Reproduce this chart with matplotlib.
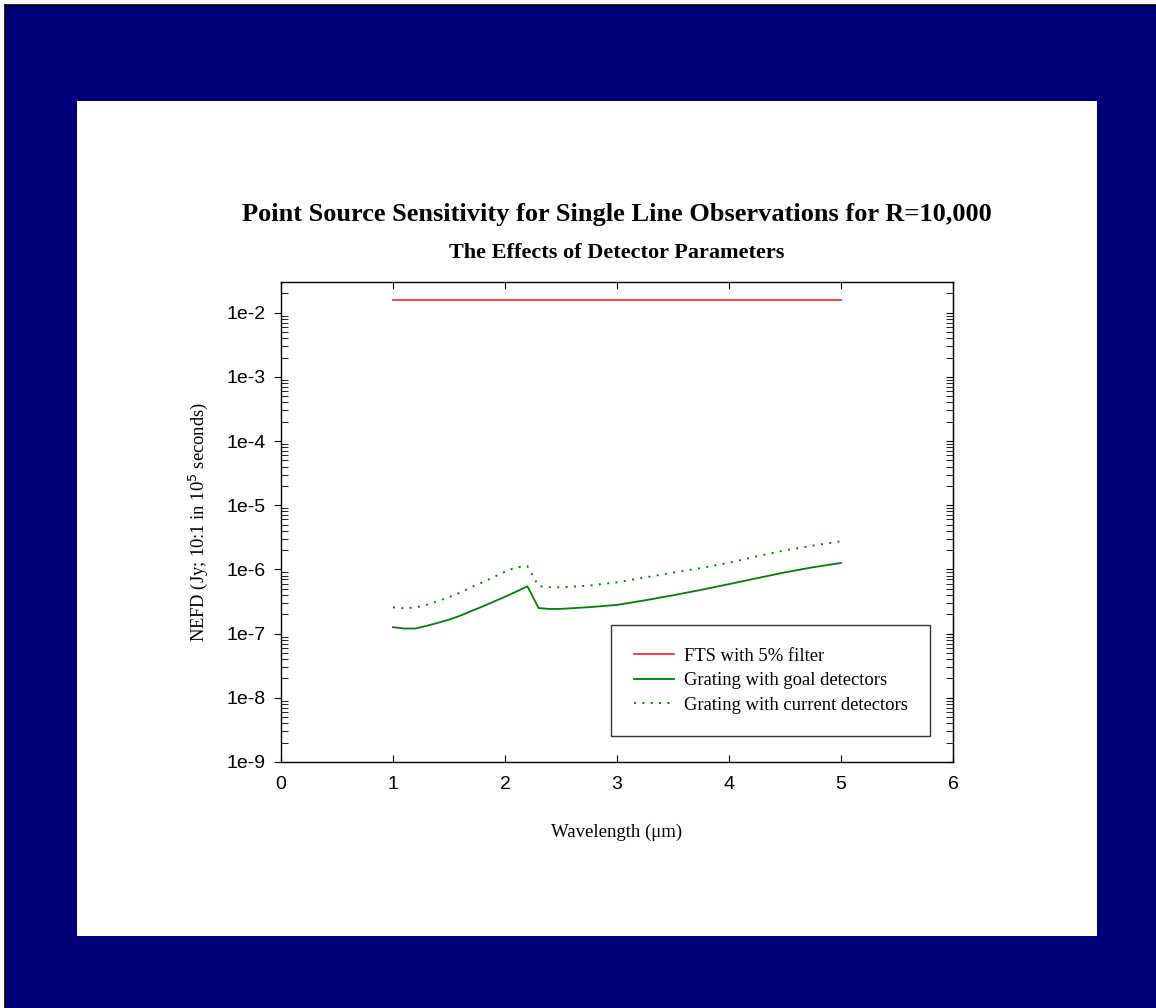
import numpy as np
import matplotlib.pyplot as plt
from matplotlib.patches import Rectangle
from matplotlib.lines import Line2D

# wavelength grid (um) and NEFD values
wl_fts = [1.0, 5.0]
nefd_fts = [1.6e-2, 1.6e-2]

wl = [1.0, 1.1, 1.2, 1.3, 1.4, 1.5, 1.6, 1.7, 1.8, 1.9, 2.0, 2.1, 2.2,
      2.3, 2.4, 2.5, 2.75, 3.0, 3.25, 3.5, 3.75, 4.0, 4.25, 4.5, 4.75, 5.0]
nefd_goal = [1.26e-7, 1.2e-7, 1.2e-7, 1.32e-7, 1.47e-7, 1.65e-7, 1.9e-7,
             2.25e-7, 2.65e-7, 3.15e-7, 3.75e-7, 4.5e-7, 5.45e-7,
             2.5e-7, 2.42e-7, 2.43e-7, 2.58e-7, 2.8e-7, 3.3e-7, 3.95e-7,
             4.8e-7, 5.9e-7, 7.3e-7, 9.0e-7, 1.08e-6, 1.26e-6]
nefd_current = [2.57e-7, 2.48e-7, 2.55e-7, 2.8e-7, 3.2e-7, 3.7e-7, 4.35e-7,
                5.3e-7, 6.3e-7, 7.6e-7, 9.2e-7, 1.08e-6, 1.12e-6,
                5.5e-7, 5.3e-7, 5.25e-7, 5.6e-7, 6.3e-7, 7.5e-7, 8.9e-7,
                1.05e-6, 1.27e-6, 1.6e-6, 1.98e-6, 2.35e-6, 2.75e-6]

labels = ['FTS with 5% filter', 'Grating with goal detectors',
          'Grating with current detectors']
xticks = [0, 1, 2, 3, 4, 5, 6]
ydecades = [-9, -8, -7, -6, -5, -4, -3, -2]

W, H = 1156, 1008
fig = plt.figure(figsize=(W / 100, H / 100), dpi=100)
fig.patch.set_facecolor('white')

# navy page background with white panel
fig.patches.append(Rectangle((5 / W, 0), 1 - 5 / W, 1 - 5 / H, transform=fig.transFigure,
                             facecolor='#000078', edgecolor='none', zorder=-10))
fig.add_artist(Line2D([4.5 / W, 4.5 / W], [0, 1 - 4.5 / H], color='black', lw=1.2,
                      transform=fig.transFigure))
fig.add_artist(Line2D([4.5 / W, 1], [1 - 4.5 / H, 1 - 4.5 / H], color='black', lw=1.2,
                      transform=fig.transFigure))
fig.patches.append(Rectangle((77 / W, 1 - 936 / H), (1097 - 77) / W, (936 - 101) / H,
                             transform=fig.transFigure, facecolor='white',
                             edgecolor='none', zorder=-9))

ax = fig.add_axes([281 / W, 1 - 762 / H, (953 - 281) / W, (762 - 282) / H])
ax.set_yscale('log')
ax.set_xlim(0, 6)
ax.set_ylim(1e-9, 3e-2)

ax.plot(wl_fts, nefd_fts, color='#ff3030', lw=1.3, label=labels[0])
ax.plot(wl, nefd_goal, color='#008000', lw=1.3, label=labels[1])
ax.plot(wl, nefd_current, color='#008000', lw=1.4, linestyle=(0, (1, 3.3)),
        label=labels[2])

ax.set_xticks(xticks)
ax.set_xticklabels([str(v) for v in xticks], family='Liberation Sans', fontsize=14)
ax.set_yticks([10.0 ** d for d in ydecades])
ax.set_yticklabels(['1e%d' % d for d in ydecades], family='Liberation Sans', fontsize=14)
ax.tick_params(axis='x', which='both', direction='in', top=True, length=5, pad=10)
ax.tick_params(axis='y', which='major', direction='out', length=5, pad=6)
ax.tick_params(axis='y', which='minor', direction='in', length=5, right=False)
ax.tick_params(axis='y', which='major', right=False)
ax.xaxis.set_minor_locator(plt.NullLocator())

sec = ax.secondary_yaxis('right', functions=(lambda v: v, lambda v: v))
sec.tick_params(which='both', direction='in', length=5, labelright=False)
sec.set_yticks([10.0 ** d for d in ydecades])
sec.set_yticklabels([])

for s in ax.spines.values():
    s.set_linewidth(1.0)

ax.set_xlabel('Wavelength (\u03bcm)', family='Liberation Serif', fontsize=13.5, labelpad=22)
ax.set_ylabel('NEFD (Jy; 10:1 in 10$^5$ seconds)', family='Liberation Serif',
              fontsize=13.3, labelpad=12)

fig.text(617 / W, 1 - 214 / H,
         'Point Source Sensitivity for Single Line Observations for R=10,000',
         family='Liberation Serif', fontweight='bold', fontsize=19,
         ha='center', va='center')
fig.text(617 / W, 1 - 253 / H, 'The Effects of Detector Parameters',
         family='Liberation Serif', fontweight='bold', fontsize=16,
         ha='center', va='center')

leg = ax.legend(loc='lower right', bbox_to_anchor=(0.966, 0.054),
                prop={'family': 'Liberation Serif', 'size': 13.4},
                frameon=True, fancybox=False, edgecolor='black',
                borderpad=1.2, handlelength=2.15, handletextpad=0.55,
                labelspacing=0.4, borderaxespad=0)
leg.get_frame().set_linewidth(1.0)

fig.savefig('out.png', dpi=100, facecolor=fig.get_facecolor())
